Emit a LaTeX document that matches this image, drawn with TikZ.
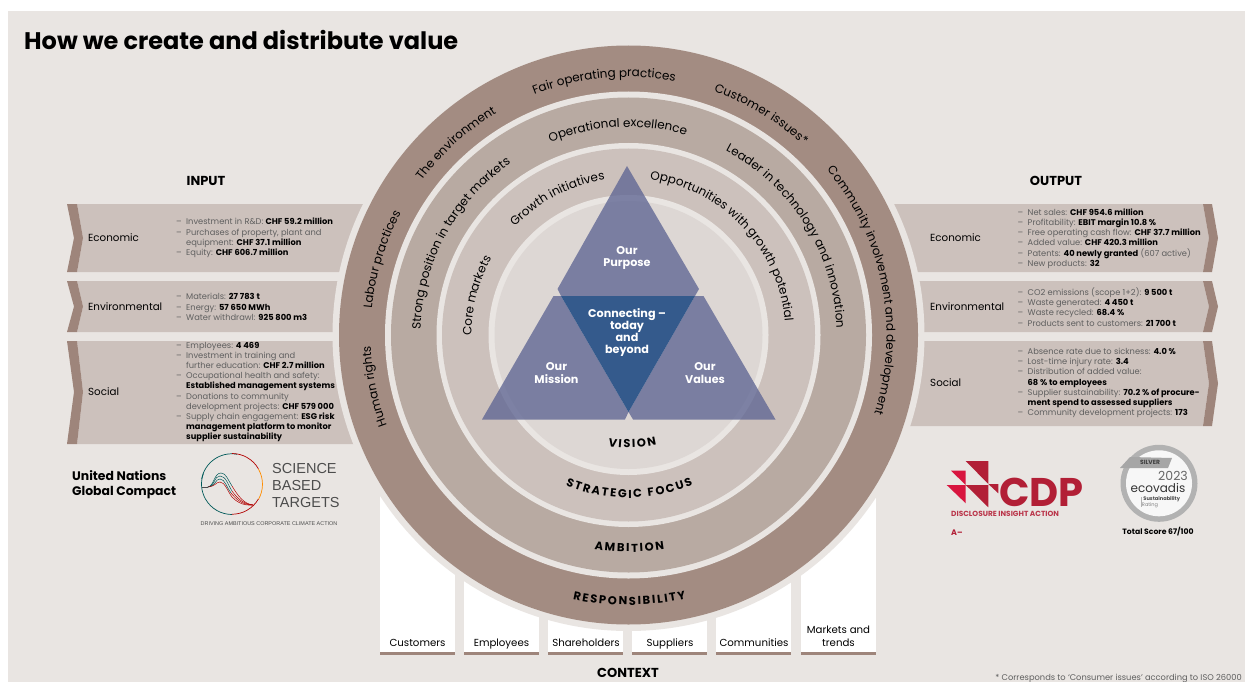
\documentclass[tikz,border=0pt]{standalone}
\usepackage{fontspec}
\setmainfont{Poppins}
\newfontfamily\logofont{Liberation Sans}
\usetikzlibrary{decorations.text}
\definecolor{pagebg}{HTML}{E9E5E2}
\definecolor{ringone}{HTML}{A38C82}
\definecolor{ringtwo}{HTML}{B8AAA2}
\definecolor{ringthree}{HTML}{CCC1BC}
\definecolor{ringfour}{HTML}{DDD7D4}
\definecolor{chevroncol}{HTML}{9E857B}
\definecolor{itemgrey}{HTML}{5F5F5F}
\definecolor{triblue}{HTML}{5F6693}
\definecolor{midblue}{HTML}{345A8C}
\definecolor{cdpdark}{HTML}{B21F36}
\definecolor{cdplight}{HTML}{D8153F}
\tikzset{
  panel/.style={fill=ringthree},
  chevron/.style={fill=chevroncol},
  heading/.style={font=\fontsize{13}{15}\selectfont\bfseries,inner sep=0},
  rowlabel/.style={font=\fontsize{10.3}{13}\selectfont,anchor=west,inner sep=0},
  itemlist/.style={font=\fontsize{8.3}{10.2}\selectfont,text=itemgrey,align=left,anchor=west,inner sep=0},
  tritext/.style={font=\fontsize{11.2}{12.2}\selectfont\bfseries,text=white,align=center,inner sep=0},
  ctxbox/.style={fill=white},
  ctxbar/.style={fill=chevroncol},
  ctxlabel/.style={font=\fontsize{10.2}{13}\selectfont,align=center,inner sep=0},
  ringtext/.style={decorate},
}
\newcommand{\itm}{\makebox[10pt][l]{–}}
\newcommand{\hl}[1]{\textcolor{black}{\textbf{#1}}}
% top arcs run clockwise, bottom arcs anticlockwise
\newcommand{\toplabel}[3]{\path[ringtext,decoration={text along path,text align=center,
    text={|\fontsize{12}{14}\selectfont|#3}}]
    (628.5,335) ++({-(#2+90)}:#1) arc[start angle={-(#2+90)},end angle={-(#2-90)},radius=#1];}
\newcommand{\botlabel}[3]{\path[ringtext,decoration={text along path,text align=center,
    text={|\bfseries\fontsize{11.5}{14}\selectfont\kern1.8pt|#3}}]
    (628.5,335) ++({90-#2}:#1) arc[start angle={90-#2},end angle={-90-#2},radius=#1];}
\begin{document}
\begin{tikzpicture}[x=1pt,y=1pt,yscale=-1]
  \useasboundingbox (0,0) rectangle (1245,682);
  \fill[pagebg](8,11) rectangle (1245,682);
  \node[font=\fontsize{24}{28}\selectfont\bfseries,anchor=west,inner sep=0] (title) at (24,40) {How we create and distribute value};
  \node[heading] (input) at (206,181) {INPUT};
  \node[heading] (output) at (1056,181) {OUTPUT};
  \node[heading] (context) at (628,673) {CONTEXT};
  % context boxes
  \fill[ctxbox](380,490) rectangle (455,652);
  \fill[ctxbox](464,490) rectangle (539,652);
  \fill[ctxbox](548,490) rectangle (623,652);
  \fill[ctxbox](632,490) rectangle (707,652);
  \fill[ctxbox](716,490) rectangle (791,652);
  \fill[ctxbox](801,490) rectangle (876,652);
  \fill[ctxbar](380,652) rectangle (455,655);
  \fill[ctxbar](464,652) rectangle (539,655);
  \fill[ctxbar](548,652) rectangle (623,655);
  \fill[ctxbar](632,652) rectangle (707,655);
  \fill[ctxbar](716,652) rectangle (791,655);
  \fill[ctxbar](801,652) rectangle (876,655);
  \node[ctxlabel,anchor=base] (customers) at (417.5,646) {Customers};
  \node[ctxlabel,anchor=base] (employees) at (501.5,646) {Employees};
  \node[ctxlabel,anchor=base] (shareholders) at (586,646) {Shareholders};
  \node[ctxlabel,anchor=base] (suppliers) at (670,646) {Suppliers};
  \node[ctxlabel,anchor=base] (communities) at (754,646) {Communities};
  \node[ctxlabel] (markets) at (838.5,636.5) {Markets and\\trends};
  % input panels
  \fill[panel](77,204) -- (83,238) -- (77,272) -- (380,272) -- (380,204) -- cycle;
  \fill[panel](77,281) -- (83,306.5) -- (77,332) -- (380,332) -- (380,281) -- cycle;
  \fill[panel](77,341) -- (83,392) -- (77,444) -- (380,444) -- (380,341) -- cycle;
  \fill[chevron](67,204) -- (77,204) -- (83,238) -- (77,272) -- (67,272) -- (74,238) -- cycle;
  \fill[chevron](67,281) -- (77,281) -- (83,306.5) -- (77,332) -- (67,332) -- (74,306.5) -- cycle;
  \fill[chevron](67,341) -- (77,341) -- (83,392) -- (77,444) -- (67,444) -- (74,392) -- cycle;
  % output panels
  \fill[panel](880,204) -- (1203,204) -- (1209,238) -- (1203,272) -- (880,272) -- cycle;
  \fill[panel](880,281) -- (1203,281) -- (1209,306.5) -- (1203,332) -- (880,332) -- cycle;
  \fill[panel](880,341) -- (1203,341) -- (1209,383.5) -- (1203,426) -- (880,426) -- cycle;
  \fill[chevron](1203,204) -- (1212,204) -- (1218,238) -- (1212,272) -- (1203,272) -- (1209,238) -- cycle;
  \fill[chevron](1203,281) -- (1212,281) -- (1218,306.5) -- (1212,332) -- (1203,332) -- (1209,306.5) -- cycle;
  \fill[chevron](1203,341) -- (1212,341) -- (1218,383.5) -- (1212,426) -- (1203,426) -- (1209,383.5) -- cycle;
  % rings
  \fill[pagebg](628.5,335) circle(296);
  \fill[ringone](628.5,335) circle(289.5);
  \fill[pagebg](628.5,335) circle(243.5);
  \fill[ringtwo](628.5,335) circle(237.5);
  \fill[pagebg](628.5,335) circle(192);
  \fill[ringthree](628.5,335) circle(186.5);
  \fill[pagebg](628.5,335) circle(140);
  \fill[ringfour](628.5,335) circle(134);
  % triangles
  \fill[triblue,opacity=.78](627,166) -- (557.5,289) -- (561,296) -- (695,296) -- (699,289) -- cycle;
  \fill[triblue,opacity=.78](553.5,296) -- (482,419.5) -- (625,419.5) -- (628.5,412) -- (561,296) -- cycle;
  \fill[triblue,opacity=.78](703.5,296) -- (775.5,419.5) -- (633,419.5) -- (628.5,412) -- (695,296) -- cycle;
  \fill[midblue](561,296) -- (695,296) -- (628.5,412) -- cycle;
  \node[tritext] (purpose) at (627,258) {Our\\Purpose};
  \node[tritext] (connecting) at (627,332.5) {Connecting –\\today\\and\\beyond};
  \node[tritext] (mission) at (556.5,373) {Our\\Mission};
  \node[tritext] (values) at (705,373) {Our\\Values};
  % ring labels
  \toplabel{258}{95.5}{Fair operating practices}
  \toplabel{258}{132}{The environment}
  \toplabel{258}{59}{Customer issues*}
  \toplabel{258}{11}{Community involvement and development}
  \toplabel{258}{163}{Labour practices}
  \toplabel{258}{191.5}{Human rights}
  \toplabel{208}{93}{Operational excellence}
  \toplabel{208}{151.5}{Strong position in target markets}
  \toplabel{208}{32}{Leader in technology and innovation}
  \toplabel{157}{117.5}{Growth initiatives}
  \toplabel{157}{165.5}{Core markets}
  \toplabel{157}{43.5}{Opportunities with growth potential}
  \botlabel{113}{-88.5}{VISION}
  \botlabel{163}{-90}{STRATEGIC FOCUS}
  \botlabel{217}{-90}{AMBITION}
  \botlabel{270}{-90}{RESPONSIBILITY}
  % input texts
  \node[rowlabel] (ineco) at (88,238) {Economic};
  \node[rowlabel] (inenv) at (88,307) {Environmental};
  \node[rowlabel] (insoc) at (88,392) {Social};
  \node[itemlist] (inecolist) at (176,238) {\itm Investment in R\&D: \hl{CHF 59.2 million}\\
    \itm Purchases of property, plant and\\
    \hspace*{10pt}equipment: \hl{CHF 37.1 million}\\
    \itm Equity: \hl{CHF 606.7 million}};
  \node[itemlist] (inenvlist) at (176,307) {\itm Materials: \hl{27 783 t}\\
    \itm Energy: \hl{57 650 MWh}\\
    \itm Water withdrawl: \hl{925 800 m3}};
  \node[itemlist] (insoclist) at (176,392) {\itm Employees: \hl{4 469}\\
    \itm Investment in training and\\
    \hspace*{10pt}further education: \hl{CHF 2.7 million}\\
    \itm Occupational health and safety:\\
    \hspace*{10pt}\hl{Established management systems}\\
    \itm Donations to community\\
    \hspace*{10pt}development projects: \hl{CHF 579 000}\\
    \itm Supply chain engagement: \hl{ESG risk}\\
    \hspace*{10pt}\hl{management platform to monitor}\\
    \hspace*{10pt}\hl{supplier sustainability}};
  % output texts
  \node[rowlabel] (outeco) at (930,238) {Economic};
  \node[rowlabel] (outenv) at (930,307) {Environmental};
  \node[rowlabel] (outsoc) at (930,383) {Social};
  \node[itemlist] (outecolist) at (1017.5,238.5) {\itm Net sales: \hl{CHF 954.6 million}\\
    \itm Profitability: \hl{EBIT margin 10.8 \%}\\
    \itm Free operating cash flow: \hl{CHF 37.7 million}\\
    \itm Added value: \hl{CHF 420.3 million}\\
    \itm Patents: \hl{40 newly granted} (607 active)\\
    \itm New products: \hl{32}};
  \node[itemlist] (outenvlist) at (1017.5,307) {\itm CO2 emissions (scope 1+2): \hl{9 500 t}\\
    \itm Waste generated: \hl{4 450 t}\\
    \itm Waste recycled: \hl{68.4 \%}\\
    \itm Products sent to customers: \hl{21 700 t}};
  \node[itemlist] (outsoclist) at (1017.5,383) {\itm Absence rate due to sickness: \hl{4.0 \%}\\
    \itm Lost-time injury rate: \hl{3.4}\\
    \itm Distribution of added value:\\
    \hspace*{10pt}\hl{68 \% to employees}\\
    \itm Supplier sustainability: \hl{70.2 \% of procure-}\\
    \hspace*{10pt}\hl{ment spend to assessed suppliers}\\
    \itm Community development projects: \hl{173}};
  % left logos
  \node[font=\fontsize{12.4}{15}\selectfont\bfseries,align=left,anchor=west,inner sep=0] (ungc) at (72,484.5) {United Nations\\Global Compact};
  \draw[color=teal!70!black,line width=.7](232,514.5) arc[start angle=90,end angle=200,radius=30.5];
  \draw[color=teal!70!black,line width=.7](201.7,479) arc[start angle=190,end angle=280,radius=30.5];
  \draw[color=red!70!black,line width=.7](232,453.5) arc[start angle=-90,end angle=-30,radius=30.5];
  \draw[color=orange!90!yellow,line width=.7](258.4,469) arc[start angle=-30,end angle=30,radius=30.5];
  \draw[color=red!70!black,line width=.7](258.4,499) arc[start angle=30,end angle=90,radius=30.5];
  \draw[color=black!70,line width=.5](202,487) -- (208,487);
  \draw[color=teal!70!black,line width=.5](208,487) .. controls (214,486) and (214,473) .. (221,473) .. controls (226,473) and (228,480) .. (232,486);
  \draw[color=red!70!black,line width=.5](232,486) .. controls (238,496) and (244,504) .. (253,505);
  \draw[color=teal!70!black,line width=.5](208,487) .. controls (215,486) and (214,476) .. (220,476) .. controls (226,476) and (228,485) .. (232,491);
  \draw[color=red!70!black,line width=.5](232,491) .. controls (237,498) and (243,504) .. (253,505);
  \draw[color=teal!70!black,line width=.5](208,487) .. controls (216,486) and (215,479) .. (220,479) .. controls (225,479) and (227,488) .. (231,493);
  \draw[color=red!70!black,line width=.5](231,493) .. controls (236,499) and (242,505) .. (253,505);
  \draw[color=red!70!black,line width=.5](208,487) .. controls (216,486) and (216,482) .. (220,482) .. controls (225,482) and (228,492) .. (232,497) .. controls (236,501) and (242,506) .. (253,505);
  \node[font=\logofont\fontsize{14.5}{16.6}\selectfont,text=black!70,align=left,anchor=west,inner sep=0] (sbt) at (272,485.5) {SCIENCE\\BASED\\TARGETS};
  \node[font=\logofont\fontsize{5.45}{6}\selectfont,text=black!70,inner sep=0] (sbtline) at (269,524) {DRIVING AMBITIOUS CORPORATE CLIMATE ACTION};
  % right logos
  \fill[cdpdark](965.7,461) -- (988.3,461) -- (988.3,484) -- cycle;
  \fill[cdplight](951,470.7) -- (965.7,470.7) -- (965.7,485) -- cycle;
  \fill[cdplight](946.7,485) -- (965.7,485) -- (965.7,503.3) -- cycle;
  \fill[cdpdark](965.7,485) -- (988.3,485) -- (988.3,507.3) -- cycle;
  \fill[cdpdark](988.3,484) -- (998.3,484) -- (998.3,493.3) -- cycle;
  \node[font=\fontsize{40}{42}\selectfont\bfseries,text=cdpdark,anchor=west,inner sep=0] (cdp) at (999,492) {CDP};
  \node[font=\fontsize{7.4}{9}\selectfont\bfseries,text=cdpdark!90,anchor=west,inner sep=0] (cdpline) at (951,514) {DISCLOSURE INSIGHT ACTION};
  \node[font=\fontsize{8}{9}\selectfont\bfseries,text=cdpdark,anchor=west,inner sep=0] (cdpscore) at (951,533) {A–};
  \fill[black!30](1159,483.3) circle(38.5);
  \fill[black!3](1159,483.3) circle(33);
  \fill[black!35](1120,468) -- (1130,457) -- (1172,458) -- (1168,468) -- cycle;
  \node[font=\fontsize{6}{7}\selectfont\bfseries,text=black!75,inner sep=0] (silver) at (1150,462.7) {SILVER};
  \node[font=\fontsize{12.5}{14}\selectfont,text=black!60,inner sep=0] (year) at (1173,475.7) {2023};
  \node[font=\fontsize{12}{14}\selectfont,text=black!80,inner sep=0] (ecovadis) at (1158,488) {ecovadis};
  \node[font=\fontsize{5.1}{6.5}\selectfont\bfseries,text=black!70,inner sep=0] (sustain) at (1161.7,499) {Sustainability};
  \node[font=\fontsize{5}{6}\selectfont,text=black!50,inner sep=0] (rating) at (1150,505) {Rating};
  \draw[color=black!30,line width=.4](1140.7,497) -- (1140.7,507);
  \node[font=\fontsize{7.7}{9}\selectfont\bfseries,inner sep=0] (score) at (1158,532) {Total Score 67/100};
  \node[font=\fontsize{8.3}{9}\selectfont,text=itemgrey,anchor=east,inner sep=0] (footnote) at (1242,678) {* Corresponds to ‘Consumer issues’ according to ISO 26000};
\end{tikzpicture}
\end{document}
